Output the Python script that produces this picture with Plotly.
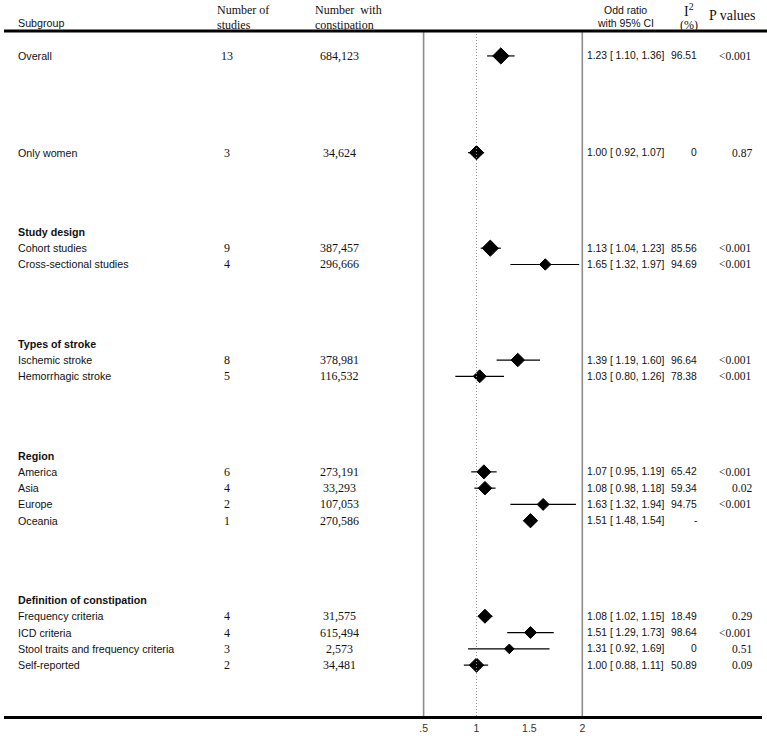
import plotly.graph_objects as go

# ---------------- data ----------------
subgroups = ["Overall", "Only women",
             "Cohort studies", "Cross-sectional studies",
             "Ischemic stroke", "Hemorrhagic stroke",
             "America", "Asia", "Europe", "Oceania",
             "Frequency criteria", "ICD criteria",
             "Stool traits and frequency criteria", "Self-reported"]
group_names = ["Study design", "Types of stroke", "Region", "Definition of constipation"]
group_members = [None, None,
                 "Study design", "Study design",
                 "Types of stroke", "Types of stroke",
                 "Region", "Region", "Region", "Region",
                 "Definition of constipation", "Definition of constipation",
                 "Definition of constipation", "Definition of constipation"]
n_studies = [13, 3, 9, 4, 8, 5, 6, 4, 2, 1, 4, 4, 3, 2]
n_constipation = ["684,123", "34,624", "387,457", "296,666", "378,981", "116,532",
                  "273,191", "33,293", "107,053", "270,586",
                  "31,575", "615,494", "2,573", "34,481"]
odds_ratio = [1.23, 1.00, 1.13, 1.65, 1.39, 1.03, 1.07, 1.08, 1.63, 1.51, 1.08, 1.51, 1.31, 1.00]
ci_low = [1.10, 0.92, 1.04, 1.32, 1.19, 0.80, 0.95, 0.98, 1.32, 1.48, 1.02, 1.29, 0.92, 0.88]
ci_high = [1.36, 1.07, 1.23, 1.97, 1.60, 1.26, 1.19, 1.18, 1.94, 1.54, 1.15, 1.73, 1.69, 1.11]
i2_values = ["96.51", "0", "85.56", "94.69", "96.64", "78.38", "65.42", "59.34", "94.75", "-",
             "18.49", "98.64", "0", "50.89"]
p_values = ["<0.001", "0.87", "<0.001", "<0.001", "<0.001", "<0.001", "<0.001", "0.02",
            "<0.001", "", "0.29", "<0.001", "0.51", "0.09"]
tick_values = [0.5, 1, 1.5, 2]
tick_labels = [".5", "1", "1.5", "2"]

# ---------------- styles / layout ----------------
diamond_sizes = [12.5, 11, 12.5, 8.8, 10.4, 10, 10.8, 10.4, 9.2, 11, 10.8, 9.2, 7.4, 11]
W, H = 767, 738
ML, MR, MT, MB = 4, 5, 31, 20
PW = W - ML - MR
PH = H - MT - MB
PX_ONE, PX_PER_UNIT = 476.5, 105.8
x_min = 1 - (PX_ONE - ML) / PX_PER_UNIT
x_max = x_min + PW / PX_PER_UNIT

SANS = "Liberation Sans, Arial, sans-serif"
SERIF = "Liberation Serif, Times New Roman, serif"
TXT = "#111111"

# row positions (pixel units on the y axis)
FIRST_ROW, SECOND_GAP, GROUP_GAP, ROW = 56, 97, 79.5, 16.33
row_y = []
header_y = {}
y = FIRST_ROW
prev_group = None
for i, g in enumerate(group_members):
    if i == 0:
        y = FIRST_ROW
    elif g is None:
        y = y + SECOND_GAP
    elif g != prev_group:
        y = y + GROUP_GAP
        header_y[g] = y
        y = y + ROW
    else:
        y = y + ROW
    row_y.append(y)
    prev_group = g


def px(xp):
    return (xp - ML) / PW


def py(yp):
    return (H - MB - yp) / PH


fig = go.Figure()

# CI lines
cx, cy = [], []
for lo, hi, yy in zip(ci_low, ci_high, row_y):
    cx += [lo, hi, None]
    cy += [yy, yy, None]
fig.add_trace(go.Scatter(x=cx, y=cy, mode="lines",
                         line=dict(color="black", width=1.2),
                         hoverinfo="skip", showlegend=False))
# diamonds
fig.add_trace(go.Scatter(x=odds_ratio, y=row_y, mode="markers",
                         marker=dict(symbol="diamond", size=diamond_sizes, color="#000000",
                                     opacity=1, line=dict(width=1, color="#000000")),
                         showlegend=False))

ann = []


def add_text(xp, yp, text, font, size, anchor="left", bold=False):
    ann.append(dict(x=px(xp), xref="paper", y=py(yp), yref="paper",
                    text=("<b>%s</b>" % text if bold else text),
                    showarrow=False, xanchor=anchor, yanchor="middle",
                    font=dict(family=font, size=size, color=TXT)))


# header texts
add_text(16, 23, "Subgroup", SANS, 10.7)
add_text(215, 10, "Number of", SERIF, 12)
add_text(215, 24.5, "studies", SERIF, 12)
add_text(313, 10, "Number  with", SERIF, 12)
add_text(313, 24.5, "constipation", SERIF, 12)
add_text(625, 10, "Odd ratio", SANS, 10.5, anchor="center")
add_text(625, 23, "with 95% CI", SANS, 10.5, anchor="center")
add_text(689, 10, "I<sup>2</sup>", SERIF, 14, anchor="center")
add_text(689, 25, "(%)", SERIF, 12, anchor="center")
add_text(732, 15, "P values", SERIF, 14, anchor="center")

for g in group_names:
    add_text(16, header_y[g], g, SANS, 10.7, bold=True)

for i, yy in enumerate(row_y):
    add_text(16, yy, subgroups[i], SANS, 10.7)
    add_text(227, yy, str(n_studies[i]), SERIF, 12, anchor="center")
    add_text(339, yy, n_constipation[i], SERIF, 12, anchor="center")
    add_text(585, yy, "%.2f [ %.2f, %.2f]" % (odds_ratio[i], ci_low[i], ci_high[i]), SANS, 10.3)
    add_text(699, yy, i2_values[i], SANS, 10.3, anchor="right")
    if p_values[i]:
        add_text(754, yy, p_values[i], SERIF, 11.5, anchor="right")

shapes = [
    dict(type="line", xref="x", yref="paper", x0=0.5, x1=0.5, y0=0, y1=1,
         line=dict(color="#8c8c8c", width=1.6)),
    dict(type="line", xref="x", yref="paper", x0=2, x1=2, y0=0, y1=1,
         line=dict(color="#8c8c8c", width=1.6)),
    dict(type="line", xref="x", yref="paper", x0=1, x1=1, y0=0, y1=1,
         line=dict(color="#9a9a9a", width=1, dash="1px,2px")),
    dict(type="line", xref="paper", yref="paper", x0=0, x1=(W - ML) / PW, y0=1, y1=1,
         line=dict(color="black", width=3)),
]

fig.update_layout(
    width=W, height=H,
    margin=dict(l=ML, r=MR, t=MT, b=MB, pad=0),
    paper_bgcolor="white", plot_bgcolor="white",
    xaxis=dict(range=[x_min, x_max], tickvals=tick_values, ticktext=tick_labels,
               showgrid=False, zeroline=False, showline=True, linecolor="black",
               linewidth=3, ticks="", tickfont=dict(family=SANS, size=10.5, color="#333333")),
    yaxis=dict(range=[H - MB, MT], showgrid=False, zeroline=False, showline=False,
               showticklabels=False, ticks=""),
    annotations=ann, shapes=shapes, showlegend=False,
)

fig.write_html("out.html", config={"displayModeBar": False},
               post_script="document.body.style.margin='0';document.body.style.overflow='hidden';")
